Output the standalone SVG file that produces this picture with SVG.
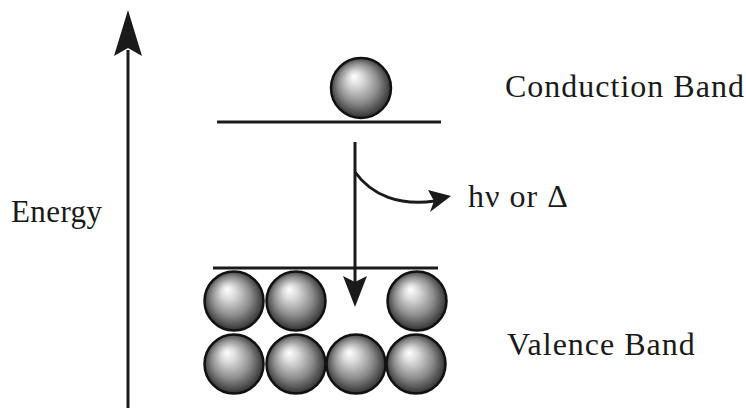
<svg xmlns="http://www.w3.org/2000/svg" width="746" height="408" viewBox="0 0 746 408">
<style>
.ln{stroke:#1a1a1a;stroke-width:3;fill:none}
.lbl{font-family:"Liberation Serif","Times New Roman",serif;font-size:32px;fill:#1a1a1a;letter-spacing:1px}
.ball{fill:url(#sph);stroke:#111;stroke-width:2.5}
</style>
<defs>
<radialGradient id="sph" cx="0.5" cy="0.5" r="0.55" fx="0.38" fy="0.3">
<stop offset="0" stop-color="#ffffff"/>
<stop offset="0.22" stop-color="#dcdcdc"/>
<stop offset="0.6" stop-color="#8c8c8c"/>
<stop offset="0.88" stop-color="#404040"/>
<stop offset="1" stop-color="#1e1e1e"/>
</radialGradient>
</defs>
<g id="connectors">
<line class="ln" x1="128" y1="408" x2="128" y2="50"/>
<polygon points="128,10 114,56 128,48 142,56" fill="#1a1a1a"/>
<line class="ln" x1="355" y1="142" x2="355" y2="285"/>
<polygon points="355,307 343,276 355,282 367,276" fill="#1a1a1a"/>
<path class="ln" d="M355,172 C372,196 400,206 435,201"/>
<polygon points="451,196 428,190 434,201 430,212" fill="#1a1a1a"/>
</g>
<g id="conduction-band">
<line class="ln" x1="217" y1="122" x2="441" y2="122"/>
<circle class="ball" cx="361" cy="88" r="30"/>
<text class="lbl" x="505" y="97">Conduction Band</text>
</g>
<g id="valence-band">
<line class="ln" x1="213" y1="268" x2="438" y2="268"/>
<circle class="ball" cx="234" cy="301" r="29.5"/>
<circle class="ball" cx="296" cy="301" r="29.5"/>
<circle class="ball" cx="417" cy="301" r="29.5"/>
<circle class="ball" cx="234" cy="364" r="29.5"/>
<circle class="ball" cx="296" cy="364" r="29.5"/>
<circle class="ball" cx="356" cy="364" r="29.5"/>
<circle class="ball" cx="416" cy="364" r="29.5"/>
<text class="lbl" x="507" y="355">Valence Band</text>
</g>
<g id="energy-label">
<text class="lbl" x="11" y="222" style="font-size:31px;letter-spacing:0.4px">Energy</text>
</g>
<g id="emission-label">
<text class="lbl" x="468" y="207">hν or Δ</text>
</g>
</svg>
